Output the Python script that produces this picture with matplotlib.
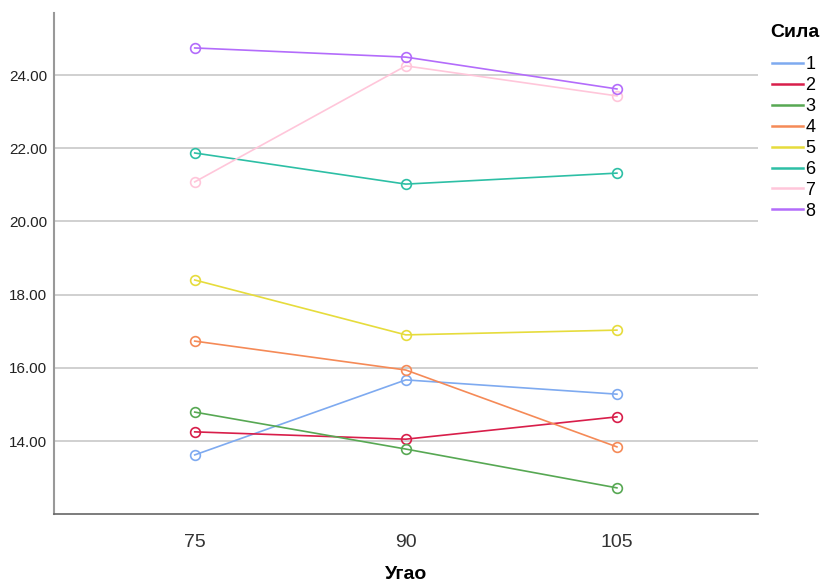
import matplotlib.pyplot as plt
from matplotlib.lines import Line2D

plt.rcParams['font.family'] = ['Liberation Sans', 'DejaVu Sans']

# angle levels and mean values per force group
angles = [75, 90, 105]
groups = ['1', '2', '3', '4', '5', '6', '7', '8']
vals_1 = [13.62, 15.67, 15.28]
vals_2 = [14.25, 14.05, 14.66]
vals_3 = [14.79, 13.78, 12.72]
vals_4 = [16.73, 15.94, 13.84]
vals_5 = [18.40, 16.90, 17.03]
vals_6 = [21.87, 21.02, 21.32]
vals_7 = [21.08, 24.25, 23.43]
vals_8 = [24.74, 24.49, 23.62]
series = [vals_1, vals_2, vals_3, vals_4, vals_5, vals_6, vals_7, vals_8]
colors = ['#7eaaf0', '#d81e4a', '#57a853', '#f58a57', '#e6dc3c', '#2dbfa5', '#ffc6da', '#b36cfb']
yticks = [14, 16, 18, 20, 22, 24]

fig = plt.figure(figsize=(8.23, 5.83), dpi=100)
ax = fig.add_axes([0.0656, 0.118, 0.855, 0.86])

for y in yticks:
    ax.axhline(y, color='#c8c8c8', lw=1.2, zorder=0)

handles = []
for name, vals, c in zip(groups, series, colors):
    ax.plot(angles, vals, color=c, lw=1.2, marker='o', ms=7,
            markerfacecolor='none', markeredgecolor=c, markeredgewidth=1.2)
    handles.append(Line2D([], [], color=c, lw=1.8, label=name))

ax.set_xlim(65, 115)
ax.set_ylim(12.0, 25.7)
ax.set_xticks(angles)
ax.set_xticklabels([str(a) for a in angles], fontsize=14, color='#333333')
ax.set_yticks(yticks)
ax.set_yticklabels(['%.2f' % t for t in yticks], fontsize=11, color='#222222')
ax.tick_params(length=0, pad=5)
ax.tick_params(axis='x', pad=14)

for s in ['top', 'right']:
    ax.spines[s].set_visible(False)
ax.spines['left'].set_color('#999999')
ax.spines['left'].set_linewidth(1.5)
ax.spines['bottom'].set_color('#666666')
ax.spines['bottom'].set_linewidth(1.2)

fig.text(0.494, 0.014, 'Угао', fontsize=14, fontweight='bold', ha='center', va='center')

# legend title drawn separately so the gap below it can be set freely
fig.text(0.936, 0.945, 'Сила', fontsize=14, fontweight='bold', ha='left', va='center')
leg = fig.legend(handles=handles, loc='upper left', bbox_to_anchor=(0.938, 0.904),
                 frameon=False, fontsize=13, handlelength=1.7,
                 handletextpad=0.15, labelspacing=0.22, borderaxespad=0, borderpad=0)

fig.savefig('out.png', dpi=100)
